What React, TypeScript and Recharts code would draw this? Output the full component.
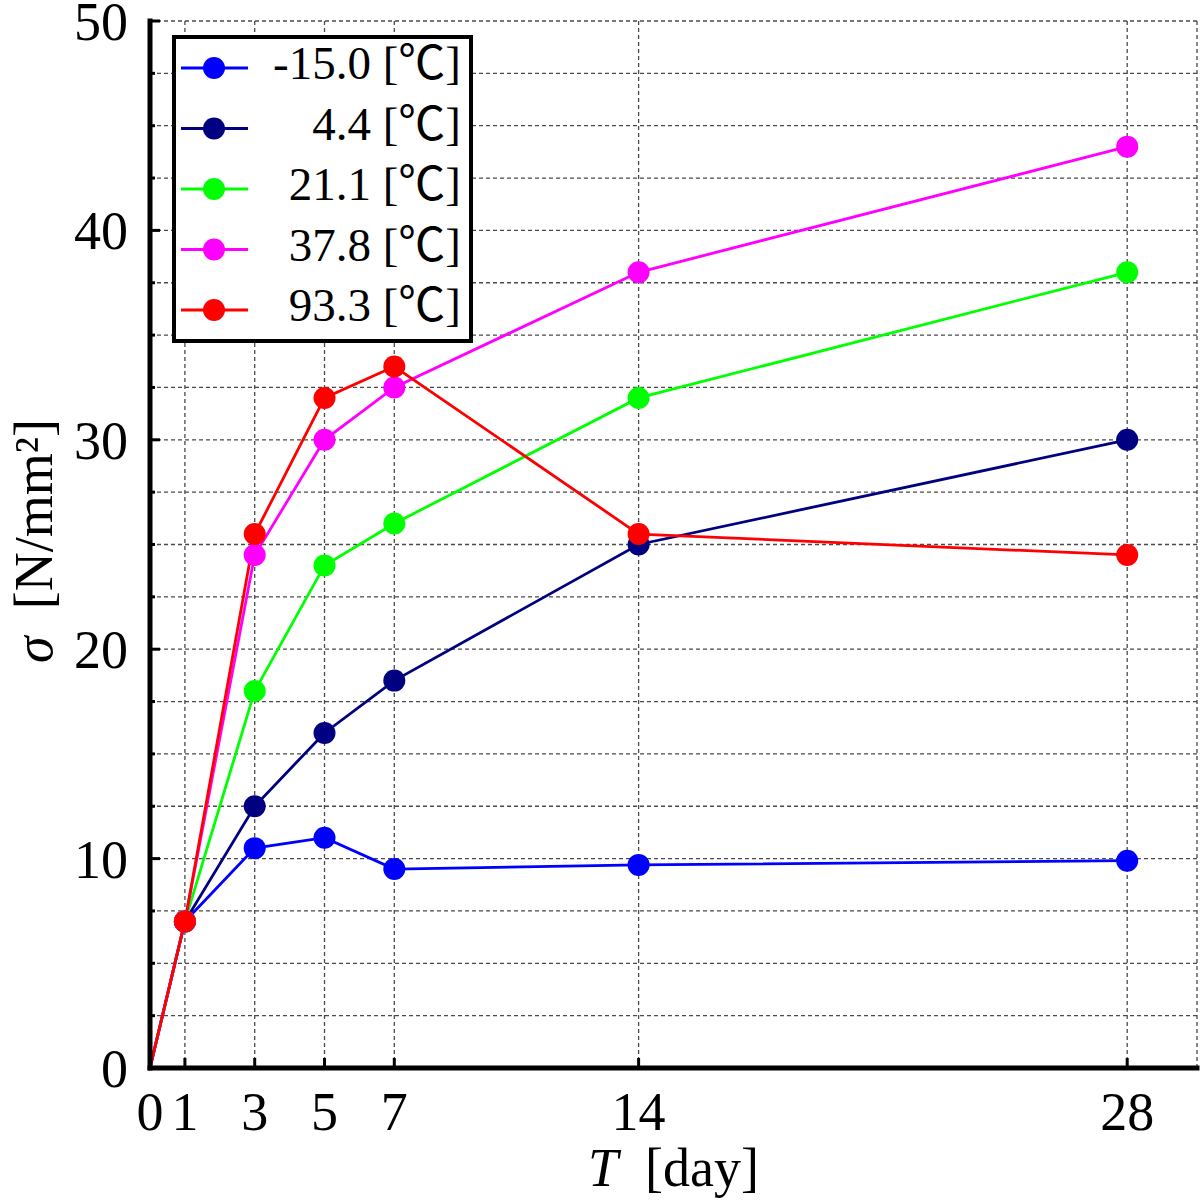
import { CartesianGrid, Label, Legend, Line, LineChart, XAxis, YAxis } from "recharts";

const SERIF = '"Liberation Serif", "Times New Roman", "Noto Sans CJK JP", serif';

// curing age [day]
const days = [0, 1, 3, 5, 7, 14, 28];

// strength per curing temperature [N/mm²]
const tempMinus15 = [0, 7, 10.5, 11, 9.5, 9.7, 9.9];
const temp4_4 = [0, 7, 12.5, 16, 18.5, 25, 30];
const temp21_1 = [0, 7, 18, 24, 26, 32, 38];
const temp37_8 = [0, 7, 24.5, 30, 32.5, 38, 44];
const temp93_3 = [0, 7, 25.5, 32, 33.5, 25.5, 24.5];

const seriesLabels = ["-15.0", "4.4", "21.1", "37.8", "93.3"];
const seriesColors = ["#0000ff", "#000080", "#00ff00", "#ff00ff", "#ff0000"];
const seriesValues = [tempMinus15, temp4_4, temp21_1, temp37_8, temp93_3];

const xTicks = [0, 1, 3, 5, 7, 14, 28];
const yTicks = Array.from({ length: 21 }, (_, i) => i * 2.5);

const data = days.map((day, i) => {
  const row: Record<string, number> = { day };
  seriesValues.forEach((vals, s) => {
    row[`s${s}`] = vals[i];
  });
  return row;
});

const YTick = (props: any) => {
  const { x, y, payload, side } = props;
  const major = payload.value % 10 === 0;
  const len = major ? 10 : 5;
  const dir = side === "left" ? 1 : -1;
  return (
    <g>
      <line x1={x} x2={x + dir * len} y1={y} y2={y} stroke="#000" strokeWidth={3} />
      {side === "left" && major && (
        <text x={x - 22} y={y + 19} textAnchor="end" fontSize={54} fontFamily={SERIF} fill="#000">
          {payload.value}
        </text>
      )}
    </g>
  );
};

const XTick = (props: any) => {
  const { x, y, payload, side } = props;
  const dir = side === "bottom" ? -1 : 1;
  return (
    <g>
      {payload.value !== 0 && (
        <line x1={x} x2={x} y1={y} y2={y + dir * 10} stroke="#000" strokeWidth={3} />
      )}
      {side === "bottom" && (
        <text x={x} y={y + 62} textAnchor="middle" fontSize={54} fontFamily={SERIF} fill="#000">
          {payload.value}
        </text>
      )}
    </g>
  );
};

const makeDot = (color: string) => (props: any) => {
  const { cx, cy, payload, index } = props;
  if (payload.day === 0) return <g key={`d${index}`} />;
  return <circle key={`d${index}`} cx={cx} cy={cy} r={11} fill={color} stroke="none" />;
};

// legend rows follow the series order, not the library's sorted payload
const LegendBox = () => (
  <svg width={301} height={308} style={{ display: "block" }}>
    <rect x={2} y={2} width={297} height={304} fill="#fff" stroke="#000" strokeWidth={4} />
    {seriesLabels.map((label, i) => {
      const cy = 33 + i * 60.5;
      const color = seriesColors[i];
      return (
        <g key={label}>
          <line x1={9} x2={76} y1={cy} y2={cy} stroke={color} strokeWidth={3} />
          <circle cx={42} cy={cy} r={11} fill={color} />
          <text
            x={289}
            y={cy + 11}
            textAnchor="end"
            fontSize={47}
            fontFamily={SERIF}
            fill="#000"
            style={{ whiteSpace: "pre" }}
          >
            {`${label} [℃]`}
          </text>
        </g>
      );
    })}
  </svg>
);

const YTitle = (props: any) => {
  const vb = props.viewBox;
  const cx = vb.x + 52;
  const cy = vb.y + 520;
  return (
    <text
      x={cx}
      y={cy}
      transform={`rotate(-90, ${cx}, ${cy})`}
      textAnchor="middle"
      fontSize={54}
      fontFamily={SERIF}
      fill="#000"
      style={{ whiteSpace: "pre" }}
    >
      <tspan fontStyle="italic">σ</tspan>
      {"  [N/mm²]"}
    </text>
  );
};

const XTitle = (props: any) => {
  const vb = props.viewBox;
  return (
    <text
      x={vb.x + vb.width / 2}
      y={vb.y + 118}
      textAnchor="middle"
      fontSize={54}
      fontFamily={SERIF}
      fill="#000"
      style={{ whiteSpace: "pre" }}
    >
      <tspan fontStyle="italic">T</tspan>
      {"  [day]"}
    </text>
  );
};

const frame = { stroke: "#000", strokeWidth: 5, strokeLinecap: "square" as const };

export default function App() {
  return (
    <div style={{ position: "absolute", left: 0, top: 0, background: "#fff", fontFamily: SERIF }}>
      <LineChart width={1200} height={1203} data={data} margin={{ top: 21, right: 3, bottom: 0, left: 0 }}>
        <CartesianGrid stroke="#4a4a4a" strokeWidth={1.3} strokeDasharray="4 3" />
        <XAxis
          dataKey="day"
          type="number"
          domain={[0, 30]}
          ticks={xTicks}
          interval={0}
          height={135}
          tickSize={0}
          tickMargin={0}
          tickLine={false}
          axisLine={frame}
          tick={(p: any) => <XTick {...p} side="bottom" />}
        >
          <Label content={XTitle} />
        </XAxis>
        <XAxis
          xAxisId="top"
          orientation="top"
          dataKey="day"
          type="number"
          domain={[0, 30]}
          ticks={xTicks}
          interval={0}
          height={0}
          tickSize={0}
          tickMargin={0}
          tickLine={false}
          axisLine={frame}
          tick={(p: any) => <XTick {...p} side="top" />}
        />
        <YAxis
          type="number"
          domain={[0, 50]}
          ticks={yTicks}
          interval={0}
          width={150}
          tickSize={0}
          tickMargin={0}
          tickLine={false}
          axisLine={frame}
          tick={(p: any) => <YTick {...p} side="left" />}
        >
          <Label content={YTitle} />
        </YAxis>
        <YAxis
          yAxisId="right"
          orientation="right"
          type="number"
          domain={[0, 50]}
          ticks={yTicks}
          interval={0}
          width={0}
          tickSize={0}
          tickMargin={0}
          tickLine={false}
          axisLine={frame}
          tick={(p: any) => <YTick {...p} side="right" />}
        />
        <Legend
          layout="horizontal"
          verticalAlign="middle"
          align="center"
          content={LegendBox}
          wrapperStyle={{ left: 172, top: 35, width: 301, height: 308 }}
        />
        {seriesLabels.map((label, s) => (
          <Line
            key={label}
            type="linear"
            dataKey={`s${s}`}
            name={`${label} [℃]`}
            stroke={seriesColors[s]}
            strokeWidth={2.8}
            dot={makeDot(seriesColors[s])}
            activeDot={false}
            isAnimationActive={false}
          />
        ))}
      </LineChart>
    </div>
  );
}
